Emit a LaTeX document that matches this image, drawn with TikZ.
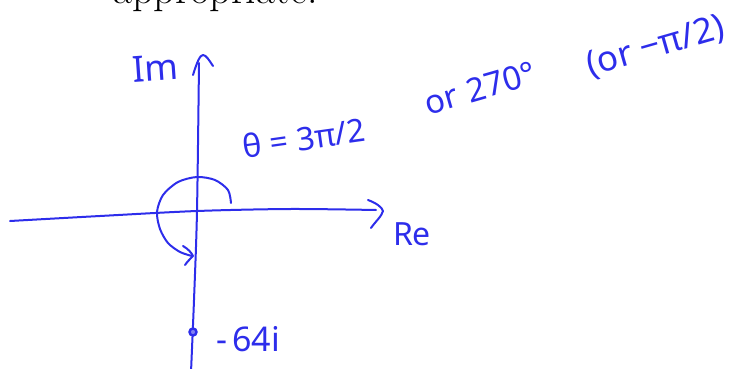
\documentclass[tikz,border=0pt]{standalone}
\usepackage{fontspec}
\newfontfamily\hand{Noto Sans}
\definecolor{ink}{RGB}{45,45,235}
\begin{document}
\begin{tikzpicture}[x=1pt,y=-1pt,
  pen/.style={draw=ink,line width=2pt,line cap=round,line join=round},
  lbl/.style={text=ink,inner sep=0pt,font=\hand}]
\useasboundingbox (0,0) rectangle (736,369);
\clip (0,0) rectangle (736,369);
% top text (cut off)
\node[inner sep=0pt,anchor=base west,font=\fontsize{42}{42}\selectfont] (txt) at (113,4) {appropriate.};
% Im axis
\coordinate (imtop) at (199,63);
\coordinate (imbot) at (191,372);
\coordinate (origin) at (197,211);
\draw[pen] plot[smooth] coordinates {(199,63) (197,211) (194,300) (191,372)};
\draw[pen] (193,75) .. controls (197,62) and (200,55) .. (203,55) .. controls (206,55) and (209,60) .. (213,66);
% Re axis
\coordinate (releft) at (10,221);
\coordinate (reright) at (376,210);
\draw[pen] plot[smooth] coordinates {(10,221) (100,216) (197,211) (290,209) (376,210)};
\draw[pen] (368,200) .. controls (376,203) and (382,207) .. (383,211) .. controls (382,216) and (375,222) .. (371,228);
% angle arc
\draw[pen] plot[smooth] coordinates {(231,203) (228,190) (215,180) (197,177) (178,182) (163,195) (157,212) (160,229) (168,243) (180,252) (192,256)};
\draw[pen] (183,246) .. controls (188,249) and (191,252) .. (193,256) .. controls (190,259) and (187,262) .. (185,265);
% point
\node[circle,draw=ink,line width=2.4pt,fill=ink!60,inner sep=0pt,minimum size=7pt] (pt) at (193,332) {};
% labels
\node[lbl,font=\hand\fontsize{36}{36}\selectfont,rotate=4] (im) at (155,68) {Im};
\node[lbl,font=\hand\fontsize{32}{32}\selectfont] (re) at (412,234) {Re};
\node[lbl,font=\hand\fontsize{32}{32}\selectfont,rotate=8] (theta) at (304,138) {θ = 3π/2};
\node[lbl,font=\hand\fontsize{33}{33}\selectfont,rotate=16] (deg) at (480,88) {or\hspace{10pt}270°};
\node[lbl,font=\hand\fontsize{35}{35}\selectfont,rotate=16] (alt) at (656,47) {(or −π/2)};
\node[lbl,font=\hand\fontsize{34}{34}\selectfont,anchor=west] (val) at (216,339) {-\hspace{5pt}64i};
\end{tikzpicture}
\end{document}
